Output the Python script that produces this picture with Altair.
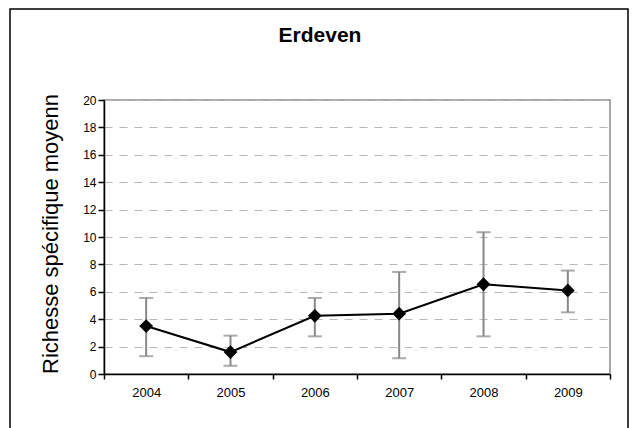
import altair as alt
import pandas as pd

# Mean species richness per year, with the low / high ends of each error bar
years = ["2004", "2005", "2006", "2007", "2008", "2009"]
mean_richness = [3.5, 1.6, 4.25, 4.4, 6.55, 6.1]
bar_low = [1.3, 0.6, 2.75, 1.15, 2.75, 4.5]
bar_high = [5.55, 2.8, 5.55, 7.45, 10.35, 7.55]

chart_title = ["Erdeven"]
y_title = ["Richesse spécifique moyenne"]
y_ticks = [0, 2, 4, 6, 8, 10, 12, 14, 16, 18, 20]

FONT = "Liberation Sans"

df = pd.DataFrame({"annee": years, "moyenne": mean_richness,
                   "bas": bar_low, "haut": bar_high})

x_enc = alt.X(
    "annee:N",
    sort=years,
    scale=alt.Scale(type="band", paddingInner=0, paddingOuter=0),
    axis=alt.Axis(
        title=None, labelAngle=0, tickBand="extent", tickSize=5,
        labelFont=FONT, labelFontSize=13, labelColor="#000", labelPadding=7,
        domainColor="#000", domainWidth=1.5, tickColor="#000", tickWidth=1.5,
        grid=False,
    ),
)
y_scale = alt.Scale(domain=[0, 20], nice=False, zero=True)
y_axis = alt.Axis(
    title=None, values=y_ticks, tickSize=6, labelPadding=2,
    labelFont=FONT, labelFontSize=12, labelColor="#000",
    domainColor="#000", domainWidth=1.5, tickColor="#000", tickWidth=1.5,
    grid=True, gridDash=[8, 7], gridColor="#b8b8b8", gridWidth=1,
)

base = alt.Chart(df)

bars = base.mark_rule(color="#888888", strokeWidth=2).encode(
    x=x_enc,
    y=alt.Y("bas:Q", scale=y_scale, axis=y_axis),
    y2="haut:Q",
)
caps_low = base.mark_tick(color="#888888", size=14, thickness=2).encode(
    x=x_enc, y=alt.Y("bas:Q", scale=y_scale, axis=y_axis)
)
caps_high = base.mark_tick(color="#888888", size=14, thickness=2).encode(
    x=x_enc, y=alt.Y("haut:Q", scale=y_scale, axis=y_axis)
)
line = base.mark_line(color="#000", strokeWidth=2).encode(
    x=x_enc, y=alt.Y("moyenne:Q", scale=y_scale, axis=y_axis)
)
points = base.mark_point(shape="diamond", filled=True, color="#000",
                         size=190, opacity=1).encode(
    x=x_enc, y=alt.Y("moyenne:Q", scale=y_scale, axis=y_axis)
)

title = alt.Chart(pd.DataFrame({"t": chart_title})).mark_text(
    font=FONT, fontSize=21, fontWeight="bold", color="#000",
    align="center", baseline="alphabetic",
).encode(x=alt.value(216), y=alt.value(-58), text="t:N")

# the axis title runs past the top of its box and is cut off there
ytitle = alt.Chart(pd.DataFrame({"t": y_title})).mark_text(
    font=FONT, fontSize=22, color="#000", angle=270,
    align="left", baseline="alphabetic", limit=290, ellipsis=" ",
).encode(x=alt.value(-46), y=alt.value(274), text="t:N")

frame = alt.Chart(pd.DataFrame({"f": [0]})).mark_rect(
    fill=None, stroke="#000", strokeWidth=1.5,
).encode(x=alt.value(-94), x2=alt.value(524), y=alt.value(-91), y2=alt.value(360))

chart = alt.layer(
    bars, caps_low, caps_high, line, points, title, ytitle, frame
).properties(
    width=506, height=274,
    padding={"left": 104, "top": 100, "right": 22, "bottom": 54},
    autosize=alt.AutoSizeParams(type="none"),
    background="white",
).configure_view(
    stroke="#8c8c8c", strokeWidth=1.5
)

chart.save("out.html", embed_options={"renderer": "svg", "actions": False})
